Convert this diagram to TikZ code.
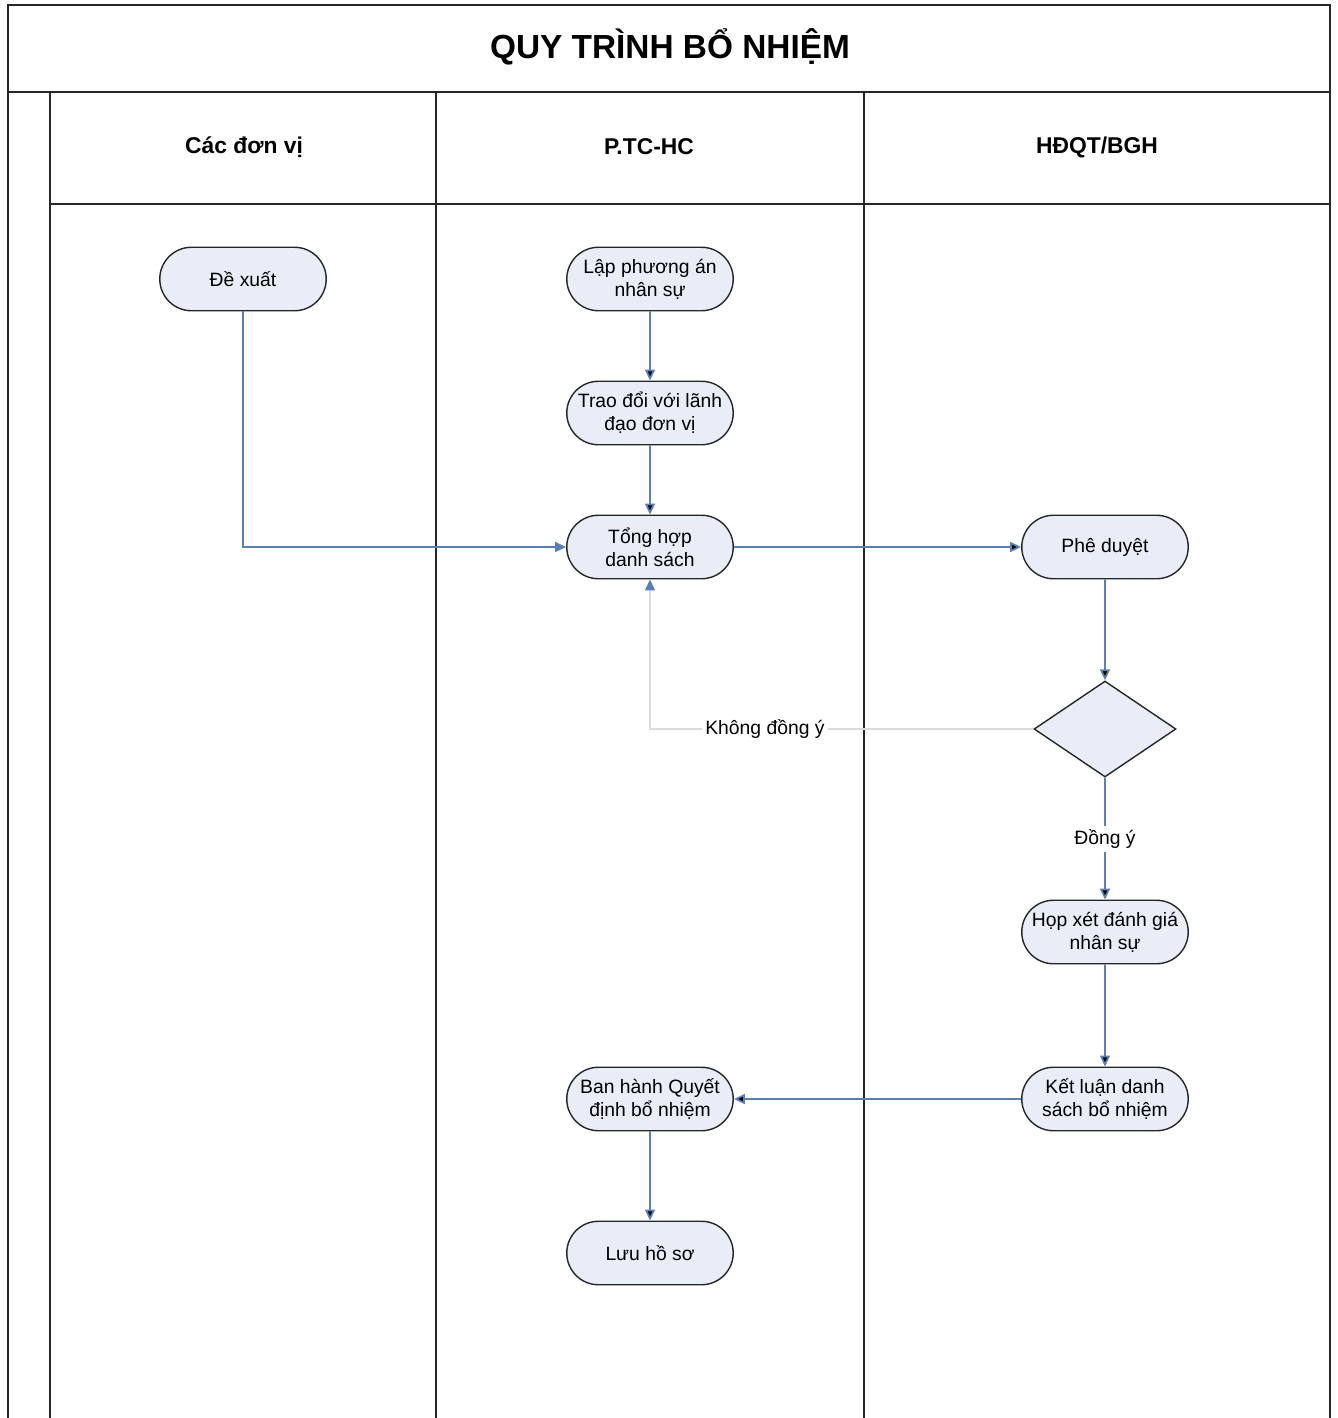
\documentclass[tikz,border=0pt]{standalone}
\usepackage{fontspec}
\setmainfont{Liberation Sans}
\usetikzlibrary{positioning, shapes.misc, shapes.geometric, arrows.meta}
\definecolor{boxfill}{HTML}{E8EDF7}
\definecolor{flow}{HTML}{5A7EB9}
\definecolor{noflow}{HTML}{DADADA}

\begin{document}
\begin{tikzpicture}[x=0.02cm, y=-0.02cm,
	p/.style={rounded rectangle, draw=black!85, fill=boxfill, line width=0.8pt, minimum width=3.4cm, minimum height=1.27cm, inner sep=1pt, align=center, font=\fontsize{11}{13}\selectfont},
	d/.style={diamond, draw=black!85, fill=boxfill, line width=0.8pt, minimum width=2.84cm, minimum height=1.92cm, inner sep=0pt},
	f/.style={draw=flow, line width=1pt, -{Triangle[length=0.22cm, width=0.2cm]}},
	fno/.style={draw=noflow, line width=0.7pt, -{Triangle[length=0.22cm, width=0.2cm, color=flow]}},
	lbl/.style={fill=white, inner sep=2pt, font=\fontsize{11}{13}\selectfont},
	lane/.style={draw=black!85, line width=0.9pt},
	hd/.style={font=\bfseries\fontsize{13}{15}\selectfont}]
	\useasboundingbox (0,0) rectangle (1338,1418);

	% frame and lanes
	\draw[lane] (8,1418) -- (8,5) -- (1330,5) -- (1330,1418);
	\draw[lane] (8,92) -- (1330,92);
	\draw[lane] (50,1418) -- (50,92);
	\draw[lane] (436,1418) -- (436,92);
	\draw[lane] (864,1418) -- (864,92);
	\draw[lane] (50,204) -- (1330,204);

	\node[font=\bfseries\fontsize{19}{23}\selectfont] (title) at (670,47) {QUY TRÌNH BỔ NHIỆM};
	\node[hd] (donvi) at (244,147) {Các đơn vị};
	\node[hd] (tchc) at (649,147) {P.TC-HC};
	\node[hd] (hdqt) at (1097,147) {HĐQT/BGH};

	% steps
	\node[p] (dexuat) at (243,279) {Đề xuất};
	\node[p] (lap) at (650,279) {Lập phương án\\nhân sự};
	\node[p] (traodoi) at (650,413) {Trao đổi với lãnh\\đạo đơn vị};
	\node[p] (tonghop) at (650,547) {Tổng hợp\\danh sách};
	\node[p] (pheduyet) at (1105,547) {Phê duyệt};
	\node[d] (xet) at (1105,729) {};
	\node[p] (hop) at (1105,932) {Họp xét đánh giá\\nhân sự};
	\node[p] (ketluan) at (1105,1099) {Kết luận danh\\sách bổ nhiệm};
	\node[p] (banhanh) at (650,1099) {Ban hành Quyết\\định bổ nhiệm};
	\node[p] (luu) at (650,1253) {Lưu hồ sơ};

	\path[f] (dexuat) |- (tonghop);
	\path[f] (lap) edge (traodoi);
	\path[f] (traodoi) edge (tonghop);
	\path[f] (tonghop) edge (pheduyet);
	\path[f] (pheduyet) edge (xet);
	\path[fno] (xet) -| node[lbl, pos=0.35] {Không đồng ý} (tonghop);
	\path[f] (xet) edge node[lbl] {Đồng ý} (hop);
	\path[f] (hop) edge (ketluan);
	\path[f] (ketluan) edge (banhanh);
	\path[f] (banhanh) edge (luu);
\end{tikzpicture}
\end{document}
